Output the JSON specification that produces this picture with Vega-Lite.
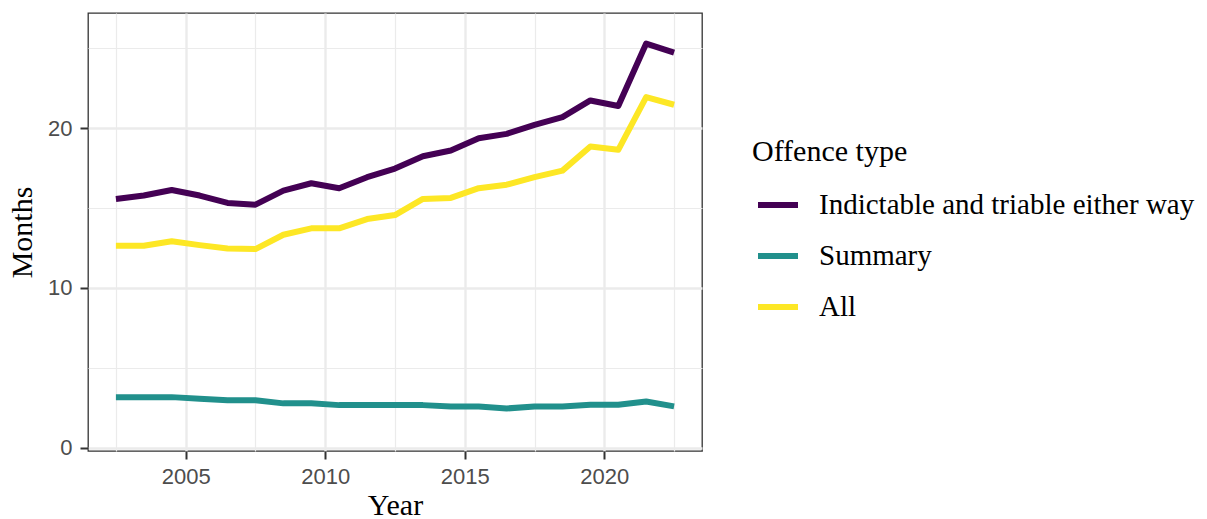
{
  "$schema": "https://vega.github.io/schema/vega-lite/v6.json",
  "autosize": {"type": "none"},
  "padding": {"left": 88, "top": 13, "right": 505, "bottom": 68},
  "width": 614,
  "height": 438,
  "background": "white",
  "data": {
    "values": [
      {"year": 2002.5, "type": "Indictable and triable either way", "months": 15.57},
      {"year": 2003.5, "type": "Indictable and triable either way", "months": 15.78},
      {"year": 2004.5, "type": "Indictable and triable either way", "months": 16.13},
      {"year": 2005.5, "type": "Indictable and triable either way", "months": 15.78},
      {"year": 2006.5, "type": "Indictable and triable either way", "months": 15.32},
      {"year": 2007.5, "type": "Indictable and triable either way", "months": 15.21},
      {"year": 2008.5, "type": "Indictable and triable either way", "months": 16.09},
      {"year": 2009.5, "type": "Indictable and triable either way", "months": 16.55},
      {"year": 2010.5, "type": "Indictable and triable either way", "months": 16.24},
      {"year": 2011.5, "type": "Indictable and triable either way", "months": 16.93},
      {"year": 2012.5, "type": "Indictable and triable either way", "months": 17.47},
      {"year": 2013.5, "type": "Indictable and triable either way", "months": 18.24},
      {"year": 2014.5, "type": "Indictable and triable either way", "months": 18.6},
      {"year": 2015.5, "type": "Indictable and triable either way", "months": 19.37},
      {"year": 2016.5, "type": "Indictable and triable either way", "months": 19.64},
      {"year": 2017.5, "type": "Indictable and triable either way", "months": 20.2},
      {"year": 2018.5, "type": "Indictable and triable either way", "months": 20.69},
      {"year": 2019.5, "type": "Indictable and triable either way", "months": 21.73},
      {"year": 2020.5, "type": "Indictable and triable either way", "months": 21.38},
      {"year": 2021.5, "type": "Indictable and triable either way", "months": 25.29},
      {"year": 2022.5, "type": "Indictable and triable either way", "months": 24.72},
      {"year": 2002.5, "type": "Summary", "months": 3.17},
      {"year": 2003.5, "type": "Summary", "months": 3.17},
      {"year": 2004.5, "type": "Summary", "months": 3.17},
      {"year": 2005.5, "type": "Summary", "months": 3.07},
      {"year": 2006.5, "type": "Summary", "months": 2.97},
      {"year": 2007.5, "type": "Summary", "months": 2.97},
      {"year": 2008.5, "type": "Summary", "months": 2.78},
      {"year": 2009.5, "type": "Summary", "months": 2.78},
      {"year": 2010.5, "type": "Summary", "months": 2.67},
      {"year": 2011.5, "type": "Summary", "months": 2.67},
      {"year": 2012.5, "type": "Summary", "months": 2.67},
      {"year": 2013.5, "type": "Summary", "months": 2.67},
      {"year": 2014.5, "type": "Summary", "months": 2.59},
      {"year": 2015.5, "type": "Summary", "months": 2.59},
      {"year": 2016.5, "type": "Summary", "months": 2.46},
      {"year": 2017.5, "type": "Summary", "months": 2.59},
      {"year": 2018.5, "type": "Summary", "months": 2.59},
      {"year": 2019.5, "type": "Summary", "months": 2.69},
      {"year": 2020.5, "type": "Summary", "months": 2.69},
      {"year": 2021.5, "type": "Summary", "months": 2.9},
      {"year": 2022.5, "type": "Summary", "months": 2.59},
      {"year": 2002.5, "type": "All", "months": 12.64},
      {"year": 2003.5, "type": "All", "months": 12.64},
      {"year": 2004.5, "type": "All", "months": 12.92},
      {"year": 2005.5, "type": "All", "months": 12.68},
      {"year": 2006.5, "type": "All", "months": 12.47},
      {"year": 2007.5, "type": "All", "months": 12.43},
      {"year": 2008.5, "type": "All", "months": 13.33},
      {"year": 2009.5, "type": "All", "months": 13.73},
      {"year": 2010.5, "type": "All", "months": 13.73},
      {"year": 2011.5, "type": "All", "months": 14.31},
      {"year": 2012.5, "type": "All", "months": 14.56},
      {"year": 2013.5, "type": "All", "months": 15.57},
      {"year": 2014.5, "type": "All", "months": 15.63},
      {"year": 2015.5, "type": "All", "months": 16.24},
      {"year": 2016.5, "type": "All", "months": 16.46},
      {"year": 2017.5, "type": "All", "months": 16.93},
      {"year": 2018.5, "type": "All", "months": 17.34},
      {"year": 2019.5, "type": "All", "months": 18.85},
      {"year": 2020.5, "type": "All", "months": 18.64},
      {"year": 2021.5, "type": "All", "months": 21.94},
      {"year": 2022.5, "type": "All", "months": 21.46}
    ]
  },
  "mark": {"type": "line", "strokeWidth": 6, "strokeJoin": "round", "strokeCap": "butt"},
  "encoding": {
    "x": {
      "field": "year",
      "type": "quantitative",
      "title": "Year",
      "scale": {"domain": [2001.5, 2023.5], "nice": false, "zero": false},
      "axis": {
        "values": [2002.5, 2005, 2007.5, 2010, 2012.5, 2015, 2017.5, 2020, 2022.5],
        "labelExpr": "datum.value % 5 === 0 ? datum.value : ''",
        "tickOpacity": {"condition": {"test": "datum.value % 5 !== 0", "value": 0}, "value": 1},
        "gridWidth": {"condition": {"test": "datum.value % 5 !== 0", "value": 1.2}, "value": 2.4},
        "labelPadding": 7,
        "titlePadding": 3
      }
    },
    "y": {
      "field": "months",
      "type": "quantitative",
      "title": "Months",
      "scale": {"domain": [-0.2, 27.2], "nice": false, "zero": false},
      "axis": {
        "values": [0, 5, 10, 15, 20, 25],
        "labelExpr": "datum.value % 10 === 0 ? datum.value : ''",
        "tickOpacity": {"condition": {"test": "datum.value % 10 !== 0", "value": 0}, "value": 1},
        "gridWidth": {"condition": {"test": "datum.value % 10 !== 0", "value": 1.2}, "value": 2.4},
        "labelPadding": 8,
        "titlePadding": 10
      }
    },
    "color": {
      "field": "type",
      "type": "nominal",
      "title": "Offence type",
      "sort": ["Indictable and triable either way", "Summary", "All"],
      "scale": {
        "domain": ["Indictable and triable either way", "Summary", "All"],
        "range": ["#440154", "#21908C", "#FDE725"]
      },
      "legend": {
        "orient": "none",
        "legendX": 664,
        "legendY": 124,
        "symbolType": "stroke",
        "symbolSize": 1600,
        "symbolStrokeWidth": 6,
        "symbolOffset": 3,
        "labelOffset": 18,
        "rowPadding": 13,
        "titlePadding": 15,
        "padding": 0
      }
    }
  },
  "config": {
    "view": {"stroke": "#333333", "strokeWidth": 1.3},
    "axis": {
      "domain": false,
      "grid": true,
      "gridColor": "#EBEBEB",
      "tickColor": "#333333",
      "tickSize": 8,
      "tickWidth": 2,
      "labelFont": "Liberation Sans",
      "labelFontSize": 22,
      "labelColor": "#4D4D4D",
      "titleFont": "Liberation Serif",
      "titleFontSize": 30,
      "titleFontWeight": "normal",
      "titleColor": "#000000"
    },
    "legend": {
      "titleFont": "Liberation Serif",
      "titleFontSize": 30,
      "titleFontWeight": "normal",
      "titleColor": "#000000",
      "labelFont": "Liberation Serif",
      "labelFontSize": 29,
      "labelColor": "#000000",
      "labelLimit": 0
    }
  }
}
